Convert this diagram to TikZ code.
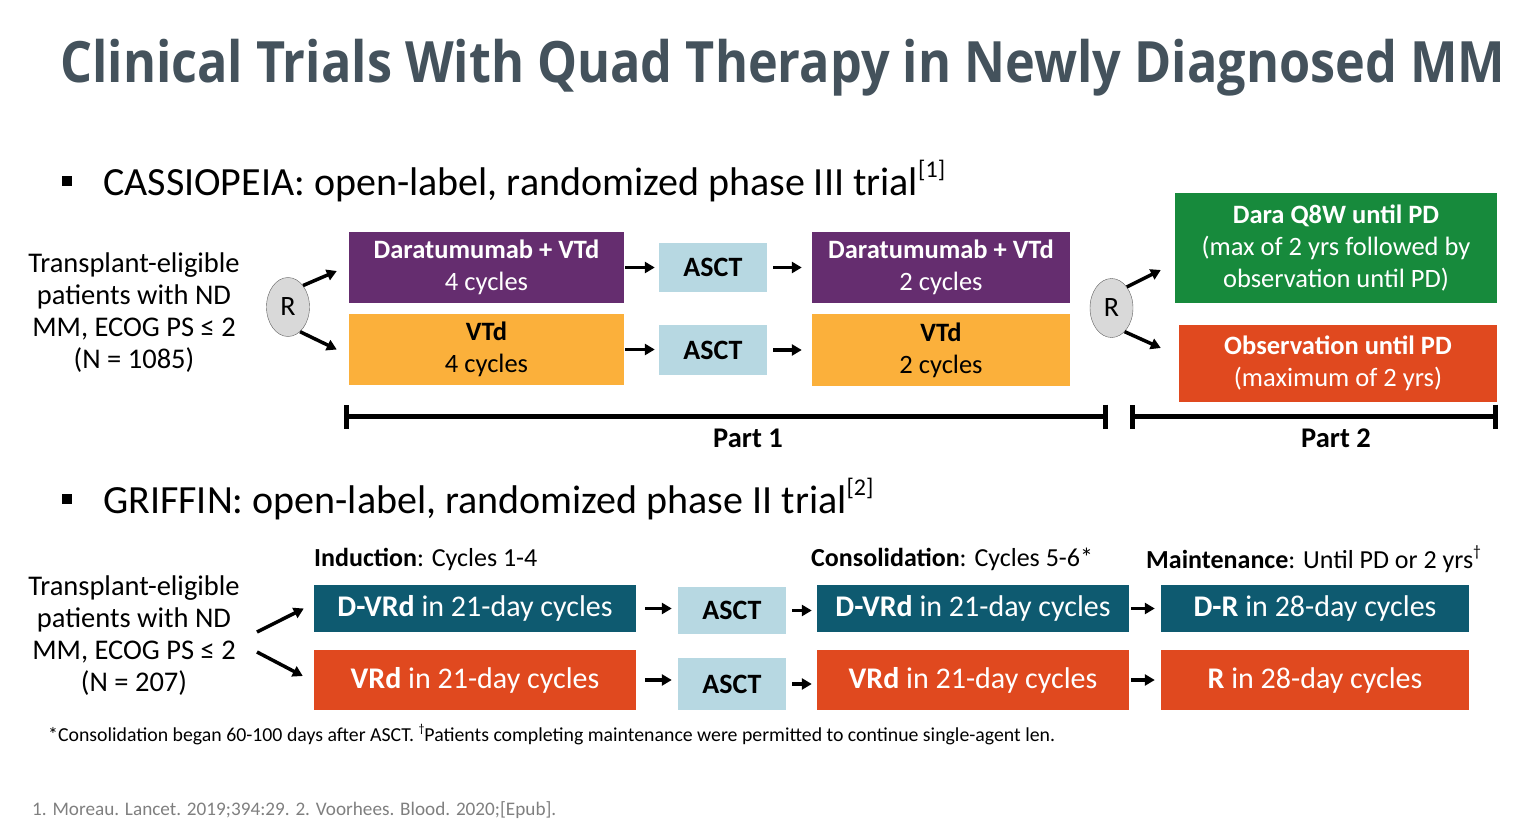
\documentclass[tikz,border=0pt]{standalone}
\usepackage{fontspec}
\setmainfont{Carlito}
\newfontfamily\titlefont{Open Sans}
\usetikzlibrary{arrows.meta,shapes.geometric}
\definecolor{titleGray}{HTML}{44525C}
\definecolor{daraPurple}{HTML}{652D6F}
\definecolor{vtdYellow}{HTML}{FBB03B}
\definecolor{asctBlue}{HTML}{B7D8E2}
\definecolor{keepGreen}{HTML}{178A3C}
\definecolor{obsOrange}{HTML}{E0491F}
\definecolor{grifTeal}{HTML}{0E5A70}
\definecolor{rFill}{HTML}{D9D9D9}
\definecolor{rGray}{HTML}{5F5F5F}
\definecolor{refGray}{HTML}{7F7F7F}
\newcommand\supmark[1]{\raisebox{0.45em}{\scalebox{0.6}{#1}}}
\begin{document}
\begin{tikzpicture}
        [x=1pt, y=-1pt,
         title_style/.style={anchor=base west,inner sep=0,text=titleGray,font=\titlefont\bfseries\fontsize{57}{60}\selectfont},
         head_style/.style={anchor=base west,inner sep=0,font=\fontsize{40}{44}\selectfont},
         bullet_style/.style={fill=black,minimum size=10pt,inner sep=0},
         pts_style/.style={align=center,inner sep=0,font=\fontsize{28.5}{32}\selectfont},
         box_style/.style={inner sep=0,align=center,font=\fontsize{26.5}{32}\selectfont},
         dara_box/.style={box_style,fill=daraPurple,text=white},
         vtd_box/.style={box_style,fill=vtdYellow,text=black},
         keep_box/.style={box_style,fill=keepGreen,text=white},
         obs_box/.style={box_style,fill=obsOrange,text=white},
         asct_box/.style={inner sep=0,fill=asctBlue,minimum width=108pt,font=\bfseries\fontsize{28}{32}\selectfont},
         grif_box/.style={inner sep=0,text=white,font=\fontsize{30}{34}\selectfont},
         dvrd_box/.style={grif_box,fill=grifTeal},
         vrd_box/.style={grif_box,fill=obsOrange},
         r_style/.style={ellipse,draw=rGray,fill=rFill,minimum width=43pt,minimum height=59pt,inner sep=0,font=\fontsize{28}{32}\selectfont},
         phase_style/.style={anchor=west,inner sep=0,font=\fontsize{26}{30}\selectfont},
         part_style/.style={inner sep=0,font=\bfseries\fontsize{28.5}{32}\selectfont},
         note_style/.style={anchor=west,inner sep=0,font=\fontsize{19.8}{22}\selectfont},
         ref_style/.style={anchor=west,inner sep=0,text=refGray,font=\fontsize{19.2}{22}\selectfont},
         arrow_style/.style={draw=black,line width=3.5pt,-{Triangle[length=10pt,width=11pt]}},
         bar_style/.style={draw=black,line width=5pt,{Bar[width=24pt]}-{Bar[width=24pt]}}]
            \useasboundingbox (0, 0) rectangle (1539, 835);
            \node[title_style] (title) at (60, 82) {\scalebox{0.884}[1]{Clinical Trials With Quad Therapy in Newly Diagnosed MM}};

            % CASSIOPEIA
            \node[bullet_style] (bul1) at (67, 181) {};
            \node[head_style] (head1) at (103, 195) {CASSIOPEIA: open-label, randomized phase III trial\supmark{[1]}};
            \node[pts_style] (pts1) at (134, 313) {Transplant-eligible\\patients with ND\\MM, ECOG PS ≤ 2\\(N = 1085)};
            \node[r_style] (r1) at (288, 307) {R};
            \node[dara_box, minimum width=275pt, minimum height=71pt] (dvtd1) at (486.5, 267.5) {\textbf{Daratumumab + VTd}\\4 cycles};
            \node[vtd_box, minimum width=275pt, minimum height=71pt] (vtd1) at (486.5, 349.5) {\textbf{VTd}\\4 cycles};
            \node[asct_box, minimum height=49pt] (asct1) at (713, 267.5) {ASCT};
            \node[asct_box, minimum height=50pt] (asct2) at (713, 350) {ASCT};
            \node[dara_box, minimum width=258pt, minimum height=71pt] (dvtd2) at (941, 267.5) {\textbf{Daratumumab + VTd}\\2 cycles};
            \node[vtd_box, minimum width=258pt, minimum height=72pt] (vtd2) at (941, 350) {\textbf{VTd}\\2 cycles};
            \node[r_style] (r2) at (1111.5, 308) {R};
            \node[keep_box, minimum width=322pt, minimum height=110pt] (keep) at (1336, 248) {\textbf{Dara Q8W until PD}\\(max of 2 yrs followed by\\observation until PD)};
            \node[obs_box, minimum width=318pt, minimum height=77pt] (obs) at (1338, 363.5) {\textbf{Observation until PD}\\(maximum of 2 yrs)};
            \draw[arrow_style] (r1.55) -- ([xshift=-12pt,yshift=-3.5pt]dvtd1.west);
            \draw[arrow_style] (r1.-64) -- ([xshift=-12pt]vtd1.west);
            \draw[arrow_style, shorten <=1pt, shorten >=4pt] (dvtd1.east) -- (dvtd1.east -| asct1.west);
            \draw[arrow_style, shorten <=6pt, shorten >=10pt] (asct1.east) -- (asct1.east -| dvtd2.west);
            \draw[arrow_style, shorten <=1pt, shorten >=4pt] (vtd1.east) -- (vtd1.east -| asct2.west);
            \draw[arrow_style, shorten <=6pt, shorten >=10pt] (asct2.east) -- (asct2.east -| vtd2.west);
            \draw[arrow_style] (r2.54) -- ([xshift=-14pt,yshift=-22pt]keep.west);
            \draw[arrow_style] (r2.-61) -- ([xshift=-18pt,yshift=15.5pt]obs.west);
            \coordinate (part1a) at (343.5, 416.5);
            \coordinate (part1b) at (1107.5, 416.5);
            \coordinate (part2a) at (1129.5, 416.5);
            \coordinate (part2b) at (1497.5, 416.5);
            \draw[bar_style] (part1a) -- (part1b);
            \draw[bar_style] (part2a) -- (part2b);
            \node[part_style] (part1) at (748, 438) {Part 1};
            \node[part_style] (part2) at (1336, 438) {Part 2};

            % GRIFFIN
            \node[bullet_style] (bul2) at (67, 499) {};
            \node[head_style] (head2) at (103, 513) {GRIFFIN: open-label, randomized phase II trial\supmark{[2]}};
            \node[pts_style] (pts2) at (134, 635.5) {Transplant-eligible\\patients with ND\\MM, ECOG PS ≤ 2\\(N = 207)};
            \node[phase_style] (induct) at (314, 559) {\textbf{Induction}: Cycles 1-4};
            \node[phase_style] (consol) at (811, 559) {\textbf{Consolidation}: Cycles 5-6*};
            \node[phase_style] (maint) at (1146, 559) {\textbf{Maintenance}: Until PD or 2 yrs\supmark{†}};
            \node[dvrd_box, minimum width=322pt, minimum height=47pt] (dvrd1) at (475, 608.5) {\textbf{D-VRd} in 21-day cycles};
            \node[vrd_box, minimum width=322pt, minimum height=60pt] (vrd1) at (475, 680) {\textbf{VRd} in 21-day cycles};
            \node[asct_box, minimum height=47pt] (asct3) at (732, 610.5) {ASCT};
            \node[asct_box, minimum height=52pt] (asct4) at (732, 684) {ASCT};
            \node[dvrd_box, minimum width=312pt, minimum height=47pt] (dvrd2) at (973, 608.5) {\textbf{D-VRd} in 21-day cycles};
            \node[vrd_box, minimum width=312pt, minimum height=60pt] (vrd2) at (973, 680) {\textbf{VRd} in 21-day cycles};
            \node[dvrd_box, minimum width=308pt, minimum height=47pt] (dr) at (1315, 608.5) {\textbf{D-R} in 28-day cycles};
            \node[vrd_box, minimum width=308pt, minimum height=60pt] (r) at (1315, 680) {\textbf{R} in 28-day cycles};
            \coordinate (fork_up) at (257, 632);
            \coordinate (fork_dn) at (257, 652);
            \draw[arrow_style] (fork_up) -- ([xshift=-10pt]dvrd1.west);
            \draw[arrow_style] (fork_dn) -- ([xshift=-11pt,yshift=4pt]vrd1.west);
            \draw[arrow_style, shorten <=9pt, shorten >=6pt] (dvrd1.east) -- (dvrd1.east -| asct3.west);
            \draw[arrow_style, shorten <=6pt, shorten >=5pt] (asct3.east) -- (asct3.east -| dvrd2.west);
            \draw[arrow_style, shorten <=2pt, shorten >=6pt] (dvrd2.east) -- (dvrd2.east -| dr.west);
            \draw[arrow_style, shorten <=9pt, shorten >=6pt] (vrd1.east) -- (vrd1.east -| asct4.west);
            \draw[arrow_style, shorten <=6pt, shorten >=5pt] (asct4.east) -- (asct4.east -| vrd2.west);
            \draw[arrow_style, shorten <=2pt, shorten >=6pt] (vrd2.east) -- (vrd2.east -| r.west);

            \node[note_style] (note) at (48, 735) {*Consolidation began 60-100 days after ASCT. \supmark{†}Patients completing maintenance were permitted to continue single-agent len.};
            \node[ref_style] (refs) at (32, 810) {1. Moreau. Lancet. 2019;394:29. 2. Voorhees. Blood. 2020;[Epub].};
        \end{tikzpicture}
\end{document}
